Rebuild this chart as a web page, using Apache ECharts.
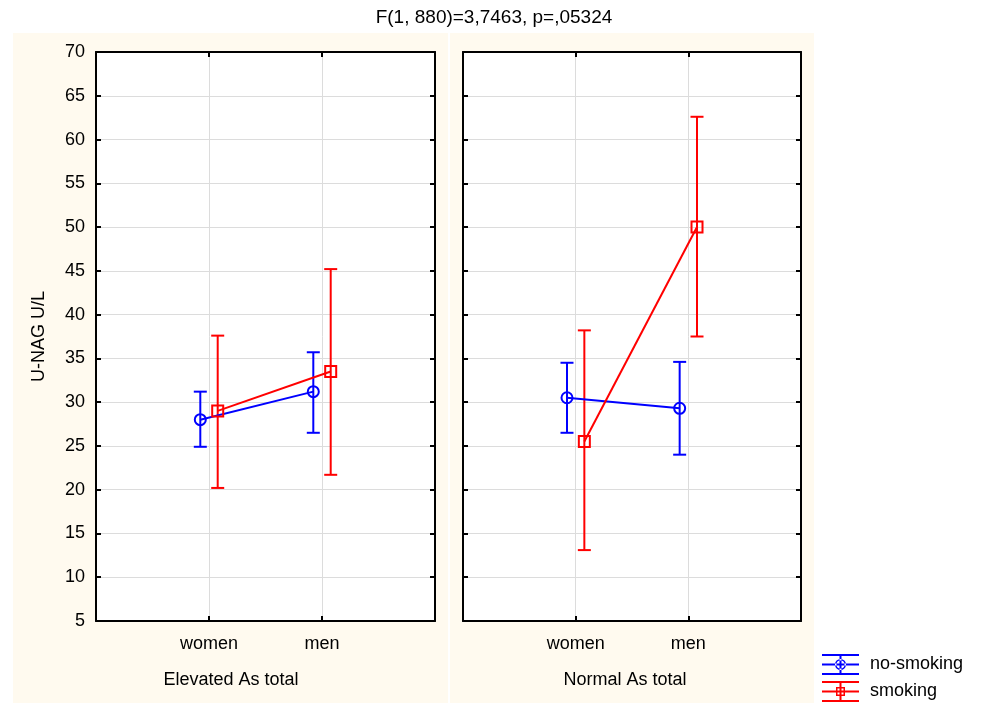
<!DOCTYPE html>
<html>
<head>
<meta charset="UTF-8">
<title>U-NAG by sex, smoking and As</title>
<script src="https://cdn.jsdelivr.net/npm/echarts@6/dist/echarts.min.js"></script>
</head>
<body style="margin:0;background:#fff">
<div id="main" style="width:988px;height:705px;"></div>
<script type="text/javascript">
// data: [panel][category]
var categories = ['women', 'men'];
var panels = ['Elevated As total', 'Normal As total'];
var groups = ['no-smoking', 'smoking'];

var noSmokingMean = [[28.0, 31.2], [30.5, 29.3]];
var noSmokingLow  = [[24.9, 26.5], [26.5, 24.0]];
var noSmokingHigh = [[31.2, 35.7], [34.5, 34.6]];

var smokingMean = [[29.0, 33.5], [25.5, 50.0]];
var smokingLow  = [[20.2, 21.7], [13.1, 37.5]];
var smokingHigh = [[37.6, 45.2], [38.2, 62.6]];

var yMin = 5, yMax = 70, yStep = 5;

var font = 'Liberation Sans, Arial, sans-serif';
var colors = ['#0000ff', '#ff0000'];
var dodge = [-0.077, 0.077];
var cream = '#fffaef';

var myChart = echarts.init(document.getElementById('main'));

// error bar with caps
function errorBar(params, api) {
    var x = api.value(0);
    var lo = api.coord([x, api.value(1)]);
    var hi = api.coord([x, api.value(2)]);
    var hw = 6.5;
    var st = { stroke: api.visual('color'), lineWidth: 2 };
    return {
        type: 'group',
        children: [
            { type: 'line', shape: { x1: lo[0], y1: lo[1], x2: hi[0], y2: hi[1] }, style: st },
            { type: 'line', shape: { x1: hi[0] - hw, y1: hi[1], x2: hi[0] + hw, y2: hi[1] }, style: st },
            { type: 'line', shape: { x1: lo[0] - hw, y1: lo[1], x2: lo[0] + hw, y2: lo[1] }, style: st }
        ]
    };
}

var grids = [
    { left: 96, top: 52, width: 339, height: 569 },
    { left: 463, top: 52, width: 338, height: 569 }
];
grids.forEach(function (g) {
    g.show = true;
    g.backgroundColor = '#fff';
    g.borderWidth = 0;
});

function tick() {
    return { show: true, inside: true, length: 5, lineStyle: { color: '#000', width: 2 } };
}
function line() {
    return { show: true, onZero: false, lineStyle: { color: '#000', width: 2 } };
}

var xAxes = [], yAxes = [], series = [];

for (var p = 0; p < 2; p++) {
    // bottom
    xAxes.push({
        type: 'value', gridIndex: p, min: 0, max: 3, interval: 1,
        axisLine: line(),
        axisTick: tick(),
        splitLine: { lineStyle: { color: '#dcdcdc', width: 1 } },
        axisLabel: {
            margin: 14, fontFamily: font, fontSize: 18, color: '#000',
            formatter: function (v) { return categories[v - 1] || ''; }
        }
    });
    // top (ticks only)
    xAxes.push({
        type: 'value', gridIndex: p, position: 'top', min: 0, max: 3, interval: 1,
        axisLine: line(), axisTick: tick(),
        splitLine: { show: false }, axisLabel: { show: false }
    });
    yAxes.push({
        type: 'value', gridIndex: p, min: yMin, max: yMax, interval: yStep,
        axisLine: line(),
        axisTick: tick(),
        splitLine: { lineStyle: { color: '#dcdcdc', width: 1 } },
        axisLabel: { show: p === 0, margin: 11, fontFamily: font, fontSize: 18, color: '#000' },
        name: p === 0 ? 'U-NAG U/L' : '',
        nameLocation: 'middle', nameGap: 48,
        nameTextStyle: { fontFamily: font, fontSize: 18, color: '#000' }
    });
    yAxes.push({
        type: 'value', gridIndex: p, position: 'right', min: yMin, max: yMax, interval: yStep,
        axisLine: line(), axisTick: tick(),
        splitLine: { show: false }, axisLabel: { show: false }
    });

    var sets = [
        [noSmokingMean[p], noSmokingLow[p], noSmokingHigh[p]],
        [smokingMean[p], smokingLow[p], smokingHigh[p]]
    ];
    for (var s = 0; s < 2; s++) {
        var bars = [], pts = [];
        for (var c = 0; c < categories.length; c++) {
            var x = c + 1 + dodge[s];
            bars.push([x, sets[s][1][c], sets[s][2][c]]);
            pts.push([x, sets[s][0][c]]);
        }
        series.push({
            type: 'custom', name: groups[s], xAxisIndex: p * 2, yAxisIndex: p * 2,
            renderItem: errorBar, data: bars, encode: { x: 0, y: [1, 2] },
            itemStyle: { color: colors[s] }, silent: true, z: 3
        });
        series.push({
            type: 'line', name: groups[s], xAxisIndex: p * 2, yAxisIndex: p * 2,
            data: pts, symbol: s === 0 ? 'circle' : 'rect', symbolSize: s === 0 ? 11 : 11,
            lineStyle: { color: colors[s], width: 2 },
            itemStyle: { color: 'rgba(255,255,255,0)', borderColor: colors[s], borderWidth: 2 },
            animation: false, z: 4
        });
    }
}

var bars3 = 'M0 0h37v2H0z M0 9.5h37v2H0z M0 19h37v2H0z M17.5 0h2v21h-2z ';
var iconCircle = 'path://' + bars3 + 'M13 10.5a5.5 5.5 0 1 0 11 0a5.5 5.5 0 1 0 -11 0z M14.5 10.5a4 4 0 1 1 8 0a4 4 0 1 1 -8 0z';
var iconSquare = 'path://' + bars3 + 'M14 6h9v9h-9z M15.5 7.5v6h6v-6z';

var option = {
    backgroundColor: '#fff',
    animation: false,
    title: {
        text: 'F(1, 880)=3,7463, p=,05324',
        left: 'center', top: 3,
        textStyle: { fontFamily: font, fontSize: 19, fontWeight: 'normal', color: '#000' }
    },
    graphic: [
        { type: 'rect', z: -10, shape: { x: 13, y: 33, width: 435, height: 670 }, style: { fill: cream } },
        { type: 'rect', z: -10, shape: { x: 450, y: 33, width: 364, height: 670 }, style: { fill: cream } },
        { type: 'text', x: 231, y: 680, style: { text: panels[0], font: '18px ' + font, fill: '#000', textAlign: 'center', textVerticalAlign: 'middle' } },
        { type: 'text', x: 625, y: 680, style: { text: panels[1], font: '18px ' + font, fill: '#000', textAlign: 'center', textVerticalAlign: 'middle' } }
    ],
    legend: {
        orient: 'vertical', left: 822, top: 654, padding: 0,
        itemWidth: 37, itemHeight: 21, itemGap: 6, itemTextGap: 11,
        textStyle: { fontFamily: font, fontSize: 18, color: '#000', padding: [0, 0, 0, 6] },
        data: [
            { name: groups[0], icon: iconCircle, itemStyle: { color: colors[0], borderWidth: 0 } },
            { name: groups[1], icon: iconSquare, itemStyle: { color: colors[1], borderWidth: 0 } }
        ]
    },
    grid: grids,
    xAxis: xAxes,
    yAxis: yAxes,
    series: series
};
myChart.setOption(option);
</script>
</body>
</html>
